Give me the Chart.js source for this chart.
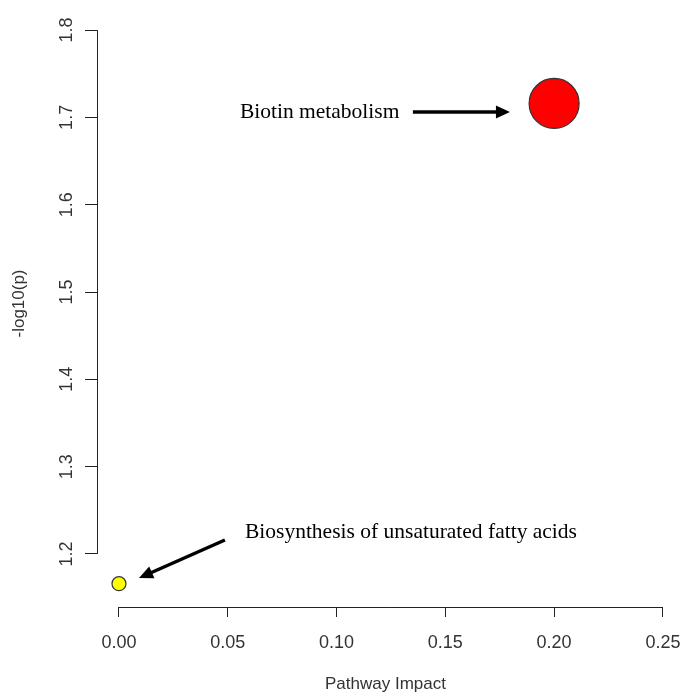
<!DOCTYPE html>
<html>
<head>
<meta charset="utf-8">
<script src="https://cdn.jsdelivr.net/npm/chart.js@4/dist/chart.umd.min.js"></script>
<style>
  html, body { margin: 0; padding: 0; background: #fff; }
  canvas { display: block; }
</style>
</head>
<body>
<canvas id="impactChart" width="684" height="696"></canvas>
<script>
// pathway analysis results
const pathways = ['Biosynthesis of unsaturated fatty acids', 'Biotin metabolism'];
const impact = [0.0, 0.2];
const negLogP = [1.166, 1.716];
const xTicks = [0, 0.05, 0.10, 0.15, 0.20, 0.25];
const yTicks = [1.2, 1.3, 1.4, 1.5, 1.6, 1.7, 1.8];

// label + arrow placement, in data units
const notes = [
    { text: pathways[0], at: [0.0579, 1.2183], from: [0.0487, 1.2160], to: [0.0092, 1.1725] },
    { text: pathways[1], at: [0.0556, 1.6993], from: [0.1351, 1.7061], to: [0.1797, 1.7061] }
];

function drawArrow(ctx, x1, y1, x2, y2) {
    const ang = Math.atan2(y2 - y1, x2 - x1);
    const head = 14, half = 6.5;
    ctx.beginPath();
    ctx.moveTo(x1, y1);
    ctx.lineTo(x2 - Math.cos(ang) * head * 0.8, y2 - Math.sin(ang) * head * 0.8);
    ctx.stroke();
    ctx.beginPath();
    ctx.moveTo(x2, y2);
    ctx.lineTo(x2 - Math.cos(ang) * head - Math.sin(ang) * half, y2 - Math.sin(ang) * head + Math.cos(ang) * half);
    ctx.lineTo(x2 - Math.cos(ang) * head + Math.sin(ang) * half, y2 - Math.sin(ang) * head - Math.cos(ang) * half);
    ctx.closePath();
    ctx.fill();
}

const rAxes = {
    id: 'rAxes',
    beforeDatasetsDraw(chart) {
        const { ctx, chartArea, scales: { x, y } } = chart;
        ctx.save();
        ctx.strokeStyle = '#222';
        ctx.lineWidth = 1;
        ctx.beginPath();
        ctx.moveTo(x.getPixelForValue(xTicks[0]), chartArea.bottom + 0.5);
        ctx.lineTo(x.getPixelForValue(xTicks[xTicks.length - 1]), chartArea.bottom + 0.5);
        ctx.moveTo(chartArea.left + 0.5, y.getPixelForValue(yTicks[0]));
        ctx.lineTo(chartArea.left + 0.5, y.getPixelForValue(yTicks[yTicks.length - 1]));
        ctx.stroke();
        ctx.restore();
    },
    afterDatasetsDraw(chart) {
        const { ctx, scales: { x, y } } = chart;
        ctx.save();
        ctx.fillStyle = '#000';
        ctx.strokeStyle = '#000';
        ctx.lineWidth = 3.5;
        ctx.font = '21.5px "Liberation Serif", serif';
        ctx.textBaseline = 'alphabetic';
        ctx.textAlign = 'left';
        notes.forEach(n => {
            ctx.fillText(n.text, x.getPixelForValue(n.at[0]), y.getPixelForValue(n.at[1]));
            drawArrow(ctx,
                x.getPixelForValue(n.from[0]), y.getPixelForValue(n.from[1]),
                x.getPixelForValue(n.to[0]), y.getPixelForValue(n.to[1]));
        });
        ctx.restore();
    }
};

new Chart(document.getElementById('impactChart'), {
    type: 'scatter',
    data: {
        labels: pathways,
        datasets: [{
            data: impact.map((v, i) => ({ x: v, y: negLogP[i] })),
            backgroundColor: ['#FFFF00', '#FF0000'],
            borderColor: '#333',
            borderWidth: 1.2,
            pointRadius: [7, 25],
            pointHoverRadius: [7, 25]
        }]
    },
    options: {
        responsive: false,
        animation: false,
        events: [],
        layout: { autoPadding: false, padding: { top: 0, right: 10, bottom: 0, left: 0 } },
        plugins: { legend: { display: false }, tooltip: { enabled: false } },
        scales: {
            x: {
                type: 'linear',
                min: -0.0101,
                max: 0.2551,
                afterBuildTicks: s => { s.ticks = xTicks.map(v => ({ value: v })); },
                afterFit: s => { s.height = 89; s.paddingLeft = 0; s.paddingRight = 0; },
                border: { display: false },
                grid: { drawOnChartArea: false, drawTicks: true, tickLength: 10, color: '#222' },
                ticks: {
                    padding: 15,
                    maxRotation: 0,
                    color: '#333',
                    font: { family: '"Liberation Sans", Arial, sans-serif', size: 18 },
                    callback: v => Number(v).toFixed(2)
                },
                title: {
                    display: true,
                    text: 'Pathway Impact',
                    color: '#333',
                    padding: { top: 0, bottom: 1 },
                    font: { family: '"Liberation Sans", Arial, sans-serif', size: 17 }
                }
            },
            y: {
                type: 'linear',
                min: 1.1393,
                max: 1.8344,
                afterBuildTicks: s => { s.ticks = yTicks.map(v => ({ value: v })); },
                afterFit: s => { s.width = 97; s.paddingTop = 0; s.paddingBottom = 0; },
                border: { display: false },
                grid: { drawOnChartArea: false, drawTicks: true, tickLength: 12, color: '#222' },
                ticks: {
                    padding: 5,
                    minRotation: 90,
                    maxRotation: 90,
                    crossAlign: 'center',
                    color: '#333',
                    font: { family: '"Liberation Sans", Arial, sans-serif', size: 18 },
                    callback: v => Number(v).toFixed(1)
                },
                title: {
                    display: true,
                    text: '-log10(p)',
                    color: '#333',
                    padding: { top: 9, bottom: 0 },
                    font: { family: '"Liberation Sans", Arial, sans-serif', size: 17 }
                }
            }
        }
    },
    plugins: [rAxes]
});
</script>
</body>
</html>
